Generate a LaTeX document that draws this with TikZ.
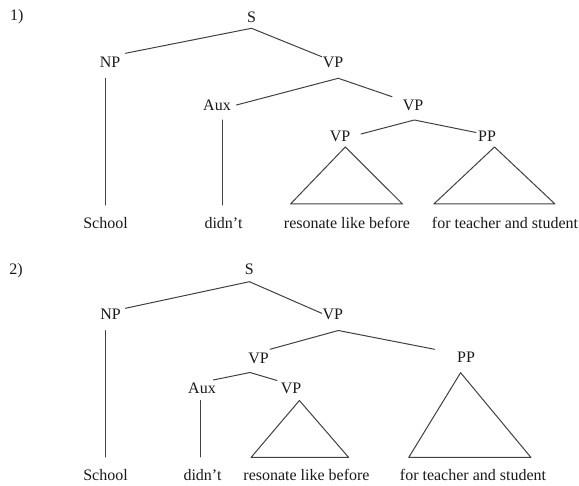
\documentclass[tikz,border=0pt]{standalone}
\usepackage{fontspec}
\setmainfont{Liberation Serif}
\usetikzlibrary{calc}
\begin{document}
\begin{tikzpicture}[x=1pt,y=-1pt,
  lab/.style={font=\fontsize{16pt}{19pt}\selectfont, text height=11pt, text depth=0pt, inner xsep=1pt, inner ysep=0pt, text=black!90},
  edge/.style={draw=black!75, line width=1pt, line cap=round, line join=round}]
\useasboundingbox (0,0) rectangle (579,486);
% ---------- tree 1 ----------
\node[lab] (n1) at (16.7,15.5) {1)};
\node[lab] (S1) at (251.5,16.7) {S};
\node[lab] (NP1) at (110,61.7) {NP};
\node[lab] (VP1) at (333,61.7) {VP};
\node[lab] (Aux1) at (217,105) {Aux};
\node[lab] (VP2) at (413,105) {VP};
\node[lab] (VP3) at (340,136) {VP};
\node[lab] (PP1) at (487,136) {PP};
\node[lab] (School1) at (105.5,222.7) {School};
\node[lab] (didnt1) at (223.5,222.7) {didn’t};
\node[lab] (res1) at (347,222.7) {resonate like before};
\node[lab] (for1) at (505,222.7) {for teacher and student};
\draw[edge] ($(NP1)+(15.4,-8.4)$) -- ($(S1)+(0,11.6)$) -- ($(VP1)+(-11.3,-5)$);
\draw[edge] ($(Aux1)+(19.5,0)$) -- ($(VP1)+(5.3,16.6)$) -- ($(VP2)+(-21,-8.3)$);
\draw[edge] ($(VP3)+(21,-2)$) -- ($(VP2)+(1.3,15)$) -- ($(PP1)+(-11,-3.5)$);
\draw[edge] ($(NP1)+(-4.5,16.6)$) -- ($(School1)+(0,-17.7)$);
\draw[edge] ($(Aux1)+(5.5,15)$) -- ($(didnt1)+(-1,-17.7)$);
\draw[edge] ($(VP3)+(5.3,11)$) -- ($(res1)+(-56.5,-18.7)$) -- ($(res1)+(55.5,-18.7)$) -- cycle;
\draw[edge] ($(PP1)+(7.5,11)$) -- ($(for1)+(-71.2,-18.7)$) -- ($(for1)+(50,-18.7)$) -- cycle;
% ---------- tree 2 ----------
\node[lab] (n2) at (16,269) {2)};
\node[lab] (S2) at (249.4,269) {S};
\node[lab] (NP2) at (110.6,314) {NP};
\node[lab] (VP4) at (332.8,314) {VP};
\node[lab] (VP5) at (258.5,357.8) {VP};
\node[lab] (PP2) at (466,357.3) {PP};
\node[lab] (Aux2) at (202,388.5) {Aux};
\node[lab] (VP6) at (291,388.3) {VP};
\node[lab] (School2) at (105.5,475.5) {School};
\node[lab] (didnt2) at (202.5,475.5) {didn’t};
\node[lab] (res2) at (306.5,475.5) {resonate like before};
\node[lab] (for2) at (473,475.5) {for teacher and student};
\draw[edge] ($(NP2)+(14.8,-5.7)$) -- ($(S2)+(0,12.7)$) -- ($(VP4)+(-11.1,-0.7)$);
\draw[edge] ($(VP5)+(11.5,-8.5)$) -- ($(VP4)+(5.5,16.5)$) -- ($(PP2)+(-31.4,-8)$);
\draw[edge] ($(Aux2)+(11.3,-8.5)$) -- ($(VP5)+(-8.5,14.7)$) -- ($(VP6)+(-14,-7.8)$);
\draw[edge] ($(NP2)+(-5.1,16.7)$) -- ($(School2)+(0,-18.5)$);
\draw[edge] ($(Aux2)+(-1.5,12)$) -- ($(didnt2)+(-2,-18.5)$);
\draw[edge] ($(VP6)+(8.4,12.2)$) -- ($(res2)+(-55.5,-18)$) -- ($(res2)+(42.2,-18)$) -- cycle;
\draw[edge] ($(PP2)+(-5.4,15.4)$) -- ($(for2)+(-64.3,-18)$) -- ($(for2)+(58,-18)$) -- cycle;
\end{tikzpicture}
\end{document}
